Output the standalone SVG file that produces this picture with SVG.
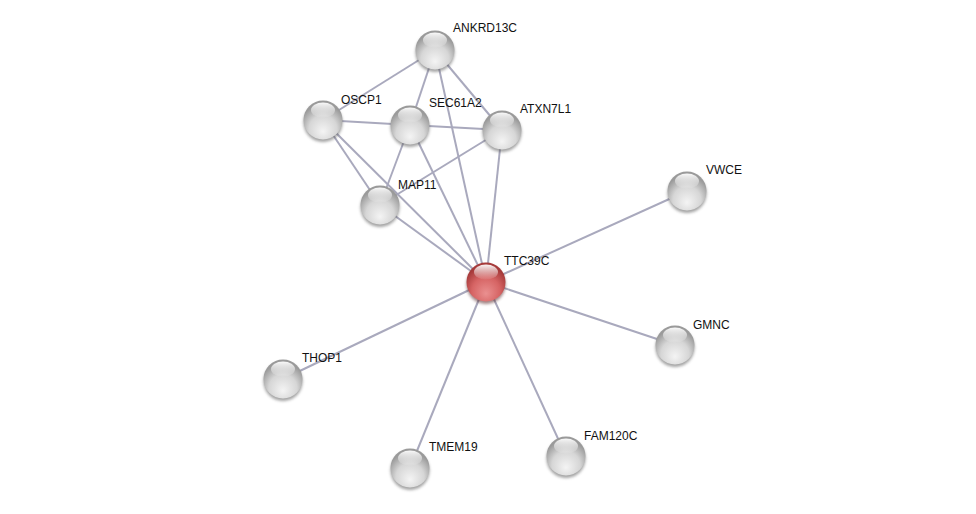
<svg xmlns="http://www.w3.org/2000/svg" width="976" height="514" viewBox="0 0 976 514">
<defs>
<radialGradient id="gGray" cx="50%" cy="70%" r="60%" fx="50%" fy="80%">
<stop offset="0" stop-color="#f4f4f4"/>
<stop offset="0.6" stop-color="#d6d6d6"/>
<stop offset="1" stop-color="#9a9a9a"/>
</radialGradient>
<radialGradient id="gRed" cx="50%" cy="70%" r="60%" fx="50%" fy="80%">
<stop offset="0" stop-color="#ea9090"/>
<stop offset="0.6" stop-color="#d66464"/>
<stop offset="1" stop-color="#a63a3a"/>
</radialGradient>
<linearGradient id="gHi" x1="0" y1="0" x2="0" y2="1">
<stop offset="0" stop-color="#ffffff" stop-opacity="0.95"/>
<stop offset="1" stop-color="#ffffff" stop-opacity="0.05"/>
</linearGradient>
<filter id="blur" x="-50%" y="-50%" width="200%" height="200%">
<feGaussianBlur stdDeviation="1.5"/>
</filter>
<g id="gnode">
<circle cx="0" cy="2.5" r="19.5" fill="#555" opacity="0.55" filter="url(#blur)"/>
<circle cx="0" cy="0" r="19.5" fill="url(#gGray)"/>
<ellipse cx="0" cy="-10" rx="12" ry="7.5" fill="url(#gHi)"/>
</g>
<g id="rnode">
<circle cx="0" cy="2.5" r="19.5" fill="#552222" opacity="0.55" filter="url(#blur)"/>
<circle cx="0" cy="0" r="19.5" fill="url(#gRed)"/>
<ellipse cx="0" cy="-10" rx="12" ry="7.5" fill="url(#gHi)"/>
</g>
</defs>
<style>
.e{stroke:#a9a9bd;stroke-width:2;fill:none}
text{font-family:"Liberation Sans",Arial,sans-serif;font-size:12px;fill:#111}
</style>
<rect width="976" height="514" fill="#ffffff"/>
<g id="edges">
<line class="e" x1="435" y1="50" x2="323" y2="120"/>
<line class="e" x1="435" y1="50" x2="410" y2="125"/>
<line class="e" x1="435" y1="50" x2="502" y2="130"/>
<line class="e" x1="435" y1="50" x2="486" y2="282"/>
<line class="e" x1="323" y1="120" x2="410" y2="125"/>
<line class="e" x1="323" y1="120" x2="380" y2="205"/>
<line class="e" x1="323" y1="120" x2="486" y2="282"/>
<line class="e" x1="410" y1="125" x2="502" y2="130"/>
<line class="e" x1="410" y1="125" x2="380" y2="205"/>
<line class="e" x1="410" y1="125" x2="486" y2="282"/>
<line class="e" x1="502" y1="130" x2="380" y2="205"/>
<line class="e" x1="502" y1="130" x2="486" y2="282"/>
<line class="e" x1="380" y1="205" x2="486" y2="282"/>
<line class="e" x1="486" y1="282" x2="687" y2="191"/>
<line class="e" x1="486" y1="282" x2="675" y2="345"/>
<line class="e" x1="486" y1="282" x2="283" y2="379"/>
<line class="e" x1="486" y1="282" x2="410" y2="468"/>
<line class="e" x1="486" y1="282" x2="566" y2="456"/>
</g>
<g id="ANKRD13C"><use href="#gnode" x="435" y="50"/><text x="453" y="32">ANKRD13C</text></g>
<g id="OSCP1"><use href="#gnode" x="323" y="120"/><text x="341" y="104">OSCP1</text></g>
<g id="SEC61A2"><use href="#gnode" x="410" y="125"/><text x="429" y="107">SEC61A2</text></g>
<g id="ATXN7L1"><use href="#gnode" x="502" y="130"/><text x="520" y="113">ATXN7L1</text></g>
<g id="MAP11"><use href="#gnode" x="380" y="205"/><text x="398" y="189">MAP11</text></g>
<g id="TTC39C"><use href="#rnode" x="486" y="282"/><text x="504" y="265">TTC39C</text></g>
<g id="VWCE"><use href="#gnode" x="687" y="191"/><text x="706" y="174">VWCE</text></g>
<g id="GMNC"><use href="#gnode" x="675" y="345"/><text x="693" y="329">GMNC</text></g>
<g id="THOP1"><use href="#gnode" x="283" y="379"/><text x="302" y="362">THOP1</text></g>
<g id="TMEM19"><use href="#gnode" x="410" y="468"/><text x="429" y="451">TMEM19</text></g>
<g id="FAM120C"><use href="#gnode" x="566" y="456"/><text x="584" y="440">FAM120C</text></g>
</svg>
